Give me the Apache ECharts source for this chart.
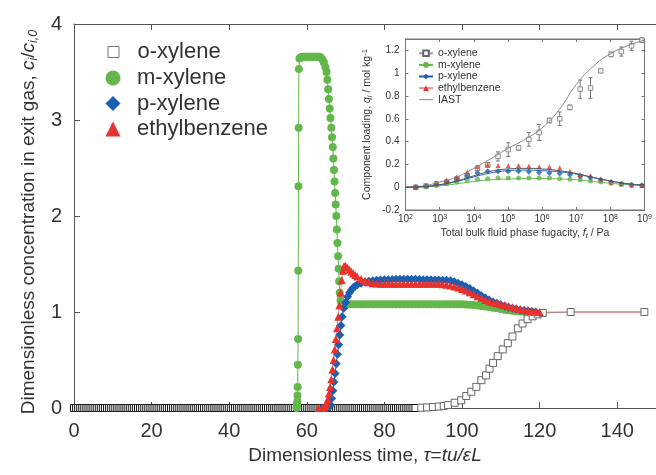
<!DOCTYPE html>
<html>
<head>
<meta charset="utf-8">
<script src="https://cdn.jsdelivr.net/npm/echarts@6/dist/echarts.min.js"></script>
<style>
  html, body { margin: 0; padding: 0; background: #fff; }
  #chart { width: 656px; height: 475px; }
</style>
</head>
<body>
<div id="chart"></div>
<script>
// breakthrough curves, [dimensionless time, c_i/c_i0]
var oXylene = [
  [0,0],[0.5,0],[1,0],[1.5,0],[2,0],[2.5,0],[3,0],[3.5,0],[4,0],[4.5,0],[5,0],[5.5,0],[6,0],[6.5,0],
  [7,0],[7.5,0],[8,0],[8.5,0],[9,0],[9.5,0],[10,0],[10.5,0],[11,0],[11.5,0],[12,0],[12.5,0],[13,0],
  [13.5,0],[14,0],[14.5,0],[15,0],[15.5,0],[16,0],[16.5,0],[17,0],[17.5,0],[18,0],[18.5,0],[19,0],
  [19.5,0],[20,0],[20.5,0],[21,0],[21.5,0],[22,0],[22.5,0],[23,0],[23.5,0],[24,0],[24.5,0],[25,0],
  [25.5,0],[26,0],[26.5,0],[27,0],[27.5,0],[28,0],[28.5,0],[29,0],[29.5,0],[30,0],[30.5,0],[31,0],
  [31.5,0],[32,0],[32.5,0],[33,0],[33.5,0],[34,0],[34.5,0],[35,0],[35.5,0],[36,0],[36.5,0],[37,0],
  [37.5,0],[38,0],[38.5,0],[39,0],[39.5,0],[40,0],[40.5,0],[41,0],[41.5,0],[42,0],[42.5,0],[43,0],
  [43.5,0],[44,0],[44.5,0],[45,0],[45.5,0],[46,0],[46.5,0],[47,0],[47.5,0],[48,0],[48.5,0],[49,0],
  [49.5,0],[50,0],[50.5,0],[51,0],[51.5,0],[52,0],[52.5,0],[53,0],[53.5,0],[54,0],[54.5,0],[55,0],
  [55.5,0],[56,0],[56.5,0],[57,0],[57.5,0],[58,0],[58.5,0],[59,0],[59.5,0],[60,0],[60.5,0],[61,0],
  [61.5,0],[62,0],[62.5,0],[63,0],[63.5,0],[64,0],[64.5,0],[65,0],[65.5,0],[66,0],[66.5,0],[67,0],
  [67.5,0],[68,0],[68.5,0],[69,0],[69.5,0],[70,0],[70.5,0],[71,0],[71.5,0],[72,0],[72.5,0],[73,0],
  [73.5,0],[74,0],[74.5,0],[75,0],[75.5,0],[76,0],[76.5,0],[77,0],[77.5,0],[78,0],[78.5,0],[79,0],
  [79.5,0],[80,0],[80.5,0],[81,0],[81.5,0],[82,0],[82.5,0],[83,0],[83.5,0],[84,0],[84.5,0],[85,0],
  [85.5,0],[86,0],[86.5,0],[87,0],[87.5,0],[88,0],
  [89.5,0.003],[91,0.006],[92.5,0.01],[94,0.015],[95.3,0.022],[96.4,0.03],[98.1,0.055],[99.8,0.08],
  [101.1,0.125],[102.4,0.17],[103.7,0.22],[105,0.29],[106.2,0.34],[107.1,0.41],[108,0.47],[109.2,0.54],
  [110.5,0.61],[111.8,0.675],[113,0.745],[114.4,0.83],[115.6,0.88],[116.9,0.925],[118.2,0.955],
  [119.5,0.975],[120.8,0.99],[128,1],[147,1]
];
var mXylene = [
  [57.4,0],[57.5,0.03],[57.55,0.07],[57.6,0.13],[57.65,0.22],[57.7,0.45],[57.75,0.72],[57.8,1.43],
  [57.85,2.31],[57.9,2.92],[57.95,3.53],[58.1,3.64],[58.4,3.65],[58.8,3.66],[59.2,3.66],[59.6,3.66],
  [60,3.66],[60.4,3.66],[60.8,3.66],[61.2,3.66],[61.6,3.66],[62,3.66],[62.4,3.66],[62.8,3.66],[63.2,3.66],
  [63.6,3.65],[64,3.63],[64.4,3.6],[64.8,3.55],[65.1,3.5],[65.3,3.42],[65.5,3.32],[65.7,3.22],[65.9,3.12],
  [66.1,3.02],[66.3,2.92],[66.5,2.82],[66.7,2.72],[66.85,2.6],[67,2.48],[67.15,2.36],[67.3,2.24],
  [67.45,2.12],[67.6,2],[67.75,1.86],[67.9,1.72],[68.05,1.58],[68.2,1.45],[68.35,1.32],[68.5,1.2],
  [68.7,1.12],[69,1.09],[69.5,1.085],[70,1.08],[71,1.08],[72,1.08],[73,1.08],[74,1.08],[75,1.08],
  [76,1.08],[77,1.08],[78,1.08],[79,1.08],[80,1.08],[81,1.08],[82,1.08],[83,1.08],[84,1.08],[85,1.08],
  [86,1.08],[87,1.08],[88,1.08],[89,1.08],[90,1.08],[91,1.08],[92,1.08],[93,1.08],[94,1.08],[95,1.08],
  [96,1.08],[97,1.08],[98,1.08],[99,1.08],[100,1.08],[101,1.078],[102,1.075],[103,1.072],[104,1.068],
  [105,1.063],[106,1.058],[107,1.052],[108,1.045],[109,1.038],[110,1.03],[111,1.024],[112,1.018],
  [113,1.012],[114,1.008],[115,1.004],[116,1.002],[117,1],[118,1]
];
var pXylene = [
  [64,0],[65,0],[65.8,0.01],[66.1,0.03],[66.4,0.1],[66.7,0.18],[67,0.27],[67.3,0.36],[67.6,0.46],
  [67.9,0.56],[68.2,0.66],[68.5,0.76],[68.8,0.86],[69.1,0.95],[69.5,1.04],[70,1.1],[70.5,1.16],[71,1.2],
  [71.5,1.23],[72,1.255],[72.5,1.27],[73,1.285],[74,1.3],[75,1.31],[76,1.32],[77,1.325],[78,1.33],
  [79,1.333],[80,1.335],[81,1.337],[82,1.338],[83,1.34],[84,1.34],[85,1.34],[86,1.34],[87,1.34],[88,1.34],
  [89,1.338],[90,1.337],[91,1.336],[92,1.335],[93,1.334],[94,1.333],[95,1.332],[96,1.33],[97,1.325],
  [98,1.315],[99,1.3],[100,1.285],[101,1.265],[102,1.245],[103,1.22],[104,1.195],[105,1.17],[106,1.145],
  [107,1.125],[108,1.105],[109,1.09],[110,1.075],[111,1.062],[112,1.05],[113,1.04],[114,1.03],
  [115,1.022],[116,1.015],[117,1.01],[118,1.005],[119,1]
];
var ethylbenzene = [
  [63,0],[64,0],[64.5,0.005],[64.8,0.02],[65.1,0.05],[65.4,0.09],[65.7,0.15],[66,0.22],[66.3,0.3],
  [66.6,0.4],[66.9,0.5],[67.2,0.61],[67.5,0.72],[67.8,0.83],[68.1,0.95],[68.4,1.07],[68.7,1.2],[69,1.33],
  [69.3,1.43],[69.6,1.48],[70,1.48],[70.5,1.46],[71,1.44],[71.5,1.42],[72,1.4],[72.5,1.385],[73,1.37],
  [74,1.345],[75,1.325],[76,1.31],[77,1.3],[78,1.297],[79,1.295],[80,1.295],[81,1.295],[82,1.295],
  [83,1.295],[84,1.295],[85,1.295],[86,1.295],[87,1.295],[88,1.295],[89,1.295],[90,1.295],[91,1.295],
  [92,1.295],[93,1.294],[94,1.293],[95,1.29],[96,1.285],[97,1.275],[98,1.265],[99,1.255],[100,1.24],
  [101,1.225],[102,1.205],[103,1.185],[104,1.165],[105,1.145],[106,1.125],[107,1.11],[108,1.1],
  [109,1.09],[110,1.08],[111,1.07],[112,1.06],[113,1.05],[114,1.04],[115,1.03],[116,1.02],[117,1.015],
  [118,1.01],[119,1.005],[120,1]
];
var ethylTail = [[128,1],[147,1]];

// inset: component loading vs total fugacity
var fugacity = [2e2,4e2,8e2,1.6e3,3.2e3,6.4e3,1.28e4,2.56e4,5.12e4,1.02e5,2.05e5,4.1e5,8.2e5,
  1.64e6,3.28e6,6.55e6,1.31e7,2.62e7,5.24e7,1.05e8,2.1e8,4.19e8,8.39e8];
var oxLoad = [0,0.01,0.03,0.045,0.075,0.1,0.165,0.195,0.27,0.33,0.345,0.42,0.48,0.585,0.6,0.7,
  0.86,0.87,1.02,1.165,1.19,1.24,1.29];
var oxErr = [0.005,0.005,0.01,0.01,0.015,0.015,0.02,0.02,0.04,0.06,0.02,0.06,0.07,0.02,0.06,0.02,
  0.08,0.09,0.01,0.02,0.04,0.04,0.02];
var mxLoad = [0,0.005,0.015,0.03,0.045,0.06,0.07,0.075,0.08,0.08,0.08,0.08,0.08,0.08,0.075,0.07,
  0.065,0.055,0.045,0.035,0.025,0.02,0.015];
var pxLoad = [0,0.01,0.025,0.05,0.075,0.1,0.125,0.14,0.14,0.14,0.14,0.135,0.13,0.125,0.12,0.11,
  0.095,0.085,0.065,0.045,0.03,0.02,0.015];
var ebLoad = [0,0.015,0.03,0.06,0.09,0.135,0.18,0.2,0.19,0.19,0.19,0.185,0.18,0.18,0.17,0.14,
  0.11,0.1,0.07,0.045,0.03,0.02,0.015];

var iastF = [1e2,3.16e2,1e3,3.16e3,1e4,3.16e4,1e5,3.16e5,1e6,3.16e6,1e7,3.16e7,1e8,3.16e8,1e9];
var iastOx = [0,0.01,0.045,0.09,0.165,0.25,0.34,0.42,0.52,0.68,0.9,1.06,1.17,1.24,1.29];
var iastMx = [0,0.003,0.012,0.03,0.05,0.065,0.072,0.075,0.075,0.072,0.065,0.05,0.035,0.022,0.015];
var iastPx = [0,0.005,0.02,0.05,0.09,0.125,0.145,0.15,0.145,0.135,0.115,0.085,0.055,0.03,0.018];
var iastEb = [0,0.005,0.022,0.055,0.1,0.14,0.16,0.165,0.16,0.145,0.12,0.085,0.055,0.03,0.018];

var GREEN = '#62b74a', BLUE = '#1a5fb4', RED = '#e8322b', GREY = '#8a8a8a';
var TXT = '#333';

function zip(xs, ys) {
  return xs.map(function (x, i) { return [x, ys[i]]; });
}

var chart = echarts.init(document.getElementById('chart'));

var tailItems = ethylTail.map(function (p) { return { value: p, symbol: 'none' }; });
// the long run of squares sitting on zero overlaps into a dark band
var oxItems = oXylene.map(function (p) {
  return p[1] === 0 ? { value: p, itemStyle: { borderColor: '#1a1a1a' } } : p;
});

var mainAxisLine = { show: true, onZero: false, lineStyle: { color: '#555' } };
var insetAxisLine = { show: true, onZero: false, lineStyle: { color: '#777' } };

chart.setOption({
  animation: false,
  textStyle: { fontFamily: 'Liberation Sans, Arial, sans-serif' },
  grid: [
    { left: 74, top: 24, width: 585, height: 384 },
    { left: 405.5, top: 39, width: 239, height: 171, show: true,
      backgroundColor: '#fff', borderColor: '#777', borderWidth: 1 }
  ],
  xAxis: [
    {
      gridIndex: 0, type: 'value', min: 0, max: 150, interval: 20,
      axisLine: mainAxisLine,
      axisTick: { show: true, inside: true, length: 6, lineStyle: { color: '#555' } },
      axisLabel: { fontSize: 20, color: TXT, margin: 13, showMaxLabel: false },
      splitLine: { show: false },
      name: 'Dimensionless time, {i|τ}={i|tu/εL}',
      nameLocation: 'middle', nameGap: 35,
      nameTextStyle: { fontSize: 19, color: TXT,
        rich: { i: { fontSize: 19, color: TXT, fontStyle: 'italic' } } }
    },
    {
      gridIndex: 0, type: 'value', position: 'top', min: 0, max: 150, interval: 20,
      axisLine: mainAxisLine,
      axisTick: { show: true, inside: true, length: 6, lineStyle: { color: '#555' } },
      axisLabel: { show: false }, splitLine: { show: false }
    },
    {
      gridIndex: 1, type: 'log', logBase: 10, min: 100, max: 1e9,
      axisLine: insetAxisLine,
      axisTick: { show: true, inside: true, length: 3, lineStyle: { color: '#777' } },
      axisLabel: {
        fontSize: 10, color: TXT, margin: 4,
        formatter: function (v) { return '10{s|' + Math.round(Math.log10(v)) + '}'; },
        rich: { s: { fontSize: 7, color: TXT, verticalAlign: 'top', lineHeight: 7 } }
      },
      splitLine: { show: false },
      name: 'Total bulk fluid phase fugacity, {i|f}{b|t} / Pa',
      nameLocation: 'middle', nameGap: 17,
      nameTextStyle: { fontSize: 10.5, color: TXT, lineHeight: 13,
        rich: { i: { fontSize: 10.5, color: TXT, fontStyle: 'italic', lineHeight: 13 },
                b: { fontSize: 7.5, color: TXT, fontStyle: 'italic', verticalAlign: 'bottom', lineHeight: 8 } } }
    },
    {
      gridIndex: 1, type: 'log', logBase: 10, min: 100, max: 1e9, position: 'top',
      axisLine: insetAxisLine,
      axisTick: { show: true, inside: true, length: 3, lineStyle: { color: '#777' } },
      axisLabel: { show: false }, splitLine: { show: false }
    }
  ],
  yAxis: [
    {
      gridIndex: 0, type: 'value', min: 0, max: 4, interval: 1,
      axisLine: mainAxisLine,
      axisTick: { show: true, inside: true, length: 6, lineStyle: { color: '#555' } },
      axisLabel: { fontSize: 20, color: TXT, margin: 12 },
      splitLine: { show: false },
      name: 'Dimensionless concentration in exit gas, {i|c}{b|i}/{i|c}{b|i,0}',
      nameLocation: 'middle', nameRotate: 90, nameGap: 34,
      nameTextStyle: { fontSize: 19, color: TXT, lineHeight: 22, padding: [0, 12, 0, 0],
        rich: { i: { fontSize: 19, color: TXT, fontStyle: 'italic', lineHeight: 22 },
                b: { fontSize: 12.5, color: TXT, fontStyle: 'italic', verticalAlign: 'bottom', lineHeight: 12 } } }
    },
    {
      gridIndex: 1, type: 'value', min: -0.2, max: 1.3, interval: 0.2,
      axisLine: insetAxisLine,
      axisTick: { show: true, inside: true, length: 3, lineStyle: { color: '#777' } },
      axisLabel: { fontSize: 10, color: TXT, margin: 6, showMaxLabel: false },
      splitLine: { show: false },
      name: 'Component loading, {i|q}{b|i} / mol kg{p|-1}',
      nameLocation: 'middle', nameRotate: 90, nameGap: 32,
      nameTextStyle: { fontSize: 10.5, color: TXT, lineHeight: 13,
        rich: { i: { fontSize: 10.5, color: TXT, fontStyle: 'italic', lineHeight: 13 },
                b: { fontSize: 7.5, color: TXT, fontStyle: 'italic', verticalAlign: 'bottom', lineHeight: 8 },
                p: { fontSize: 7.5, color: TXT, verticalAlign: 'top', lineHeight: 8 } } }
    },
    {
      gridIndex: 1, type: 'value', min: -0.2, max: 1.3, interval: 0.2, position: 'right',
      axisLine: insetAxisLine,
      axisTick: { show: true, inside: true, length: 3, lineStyle: { color: '#777' } },
      axisLabel: { show: false }, splitLine: { show: false }
    }
  ],
  legend: [
    {
      data: [{ name: 'o-xylene', icon: 'rect',
               itemStyle: { color: '#fff', borderColor: '#777', borderWidth: 1 } }],
      orient: 'vertical', left: 107.5, top: 41, padding: 0,
      itemWidth: 11, itemHeight: 11, selectedMode: false,
      textStyle: { fontSize: 22, color: TXT, lineHeight: 22, padding: [0, 0, 0, 13.5] }
    },
    {
      data: [
        { name: 'm-xylene', icon: 'circle', itemStyle: { color: GREEN } },
        { name: 'p-xylene', icon: 'diamond', itemStyle: { color: BLUE } },
        { name: 'ethylbenzene', icon: 'triangle', itemStyle: { color: RED } }
      ],
      orient: 'vertical', left: 105.5, top: 67, padding: 0, itemGap: 3.5,
      itemWidth: 15, itemHeight: 15, selectedMode: false,
      textStyle: { fontSize: 22, color: TXT, lineHeight: 22, padding: [0, 0, 0, 11.5] }
    },
    {
      data: ['o-xylene', 'm-xylene', 'p-xylene', 'ethylbenzene',
        { name: 'IAST', icon: 'path://M0,0h20v1.2h-20z', itemStyle: { color: '#777' } }],
      orient: 'vertical', left: 418, top: 47.5, padding: 0, itemGap: 0,
      itemWidth: 14, itemHeight: 7, selectedMode: false,
      textStyle: { fontSize: 10.5, color: TXT, lineHeight: 11.6 }
    }
  ],
  series: [
    {
      name: 'o-xylene', type: 'line', xAxisIndex: 0, yAxisIndex: 0, data: oxItems,
      symbol: 'rect', symbolSize: 7,
      itemStyle: { color: '#fff', borderColor: '#666', borderWidth: 1 },
      lineStyle: { color: '#999', width: 1 }
    },
    {
      name: 'm-xylene', type: 'line', xAxisIndex: 0, yAxisIndex: 0, data: mXylene,
      symbol: 'circle', symbolSize: 8,
      itemStyle: { color: GREEN }, lineStyle: { color: GREEN, width: 1 }
    },
    {
      name: 'p-xylene', type: 'line', xAxisIndex: 0, yAxisIndex: 0, data: pXylene,
      symbol: 'diamond', symbolSize: 9,
      itemStyle: { color: BLUE }, lineStyle: { color: BLUE, width: 1 }
    },
    {
      name: 'ethylbenzene', type: 'line', xAxisIndex: 0, yAxisIndex: 0,
      data: ethylbenzene.concat(tailItems),
      symbol: 'triangle', symbolSize: 8,
      itemStyle: { color: RED }, lineStyle: { color: RED, width: 1, opacity: 0.55 }
    },
    // inset
    {
      name: 'IAST', type: 'line', xAxisIndex: 2, yAxisIndex: 1, data: zip(iastF, iastOx),
      smooth: true, symbol: 'none', lineStyle: { color: GREY, width: 1 }, itemStyle: { color: GREY }
    },
    {
      name: 'IAST', type: 'line', xAxisIndex: 2, yAxisIndex: 1, data: zip(iastF, iastMx),
      smooth: true, symbol: 'none', lineStyle: { color: GREEN, width: 1 }
    },
    {
      name: 'IAST', type: 'line', xAxisIndex: 2, yAxisIndex: 1, data: zip(iastF, iastPx),
      smooth: true, symbol: 'none', lineStyle: { color: BLUE, width: 1 }
    },
    {
      name: 'IAST', type: 'line', xAxisIndex: 2, yAxisIndex: 1, data: zip(iastF, iastEb),
      smooth: true, symbol: 'none', lineStyle: { color: '#555', width: 1 }
    },
    {
      type: 'custom', xAxisIndex: 2, yAxisIndex: 1,
      data: fugacity.map(function (f, i) { return [f, oxLoad[i] - oxErr[i], oxLoad[i] + oxErr[i]]; }),
      renderItem: function (params, api) {
        var lo = api.coord([api.value(0), api.value(1)]);
        var hi = api.coord([api.value(0), api.value(2)]);
        var st = { stroke: '#777', lineWidth: 1 };
        return { type: 'group', children: [
          { type: 'line', shape: { x1: lo[0], y1: lo[1], x2: hi[0], y2: hi[1] }, style: st },
          { type: 'line', shape: { x1: lo[0] - 2, y1: lo[1], x2: lo[0] + 2, y2: lo[1] }, style: st },
          { type: 'line', shape: { x1: hi[0] - 2, y1: hi[1], x2: hi[0] + 2, y2: hi[1] }, style: st }
        ] };
      }
    },
    {
      name: 'o-xylene', type: 'scatter', xAxisIndex: 2, yAxisIndex: 1, data: zip(fugacity, oxLoad),
      symbol: 'rect', symbolSize: 4.5,
      itemStyle: { color: '#fff', borderColor: '#777', borderWidth: 1 }
    },
    {
      name: 'm-xylene', type: 'scatter', xAxisIndex: 2, yAxisIndex: 1, data: zip(fugacity, mxLoad),
      symbol: 'circle', symbolSize: 5, itemStyle: { color: GREEN }
    },
    {
      name: 'p-xylene', type: 'scatter', xAxisIndex: 2, yAxisIndex: 1, data: zip(fugacity, pxLoad),
      symbol: 'diamond', symbolSize: 6, itemStyle: { color: BLUE }
    },
    {
      name: 'ethylbenzene', type: 'scatter', xAxisIndex: 2, yAxisIndex: 1, data: zip(fugacity, ebLoad),
      symbol: 'triangle', symbolSize: 5, itemStyle: { color: RED }
    }
  ]
});
</script>
</body>
</html>
